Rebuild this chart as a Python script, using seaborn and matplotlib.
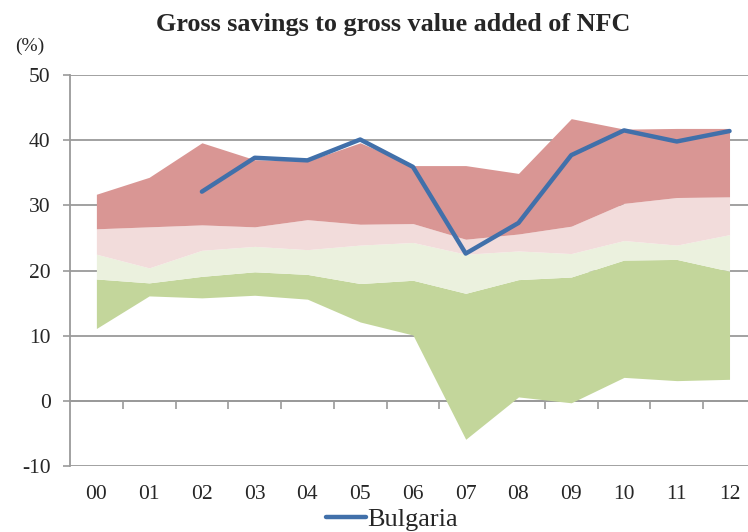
import numpy as np
import pandas as pd
import seaborn as sns
import matplotlib.pyplot as plt

years = ["00", "01", "02", "03", "04", "05", "06", "07", "08", "09", "10", "11", "12"]
# band boundaries (other countries' distribution)
lowest = [11.1, 16.1, 15.8, 16.2, 15.6, 12.1, 10.1, -5.9, 0.6, -0.3, 3.6, 3.1, 3.3]
lower_q = [18.7, 18.1, 19.1, 19.8, 19.4, 18.0, 18.5, 16.5, 18.6, 19.0, 21.6, 21.7, 19.9]
median = [22.5, 20.4, 23.1, 23.7, 23.2, 23.9, 24.3, 22.5, 23.0, 22.6, 24.6, 23.9, 25.5]
upper_q = [26.4, 26.7, 27.0, 26.7, 27.8, 27.1, 27.2, 24.8, 25.6, 26.8, 30.3, 31.2, 31.3]
highest = [31.7, 34.3, 39.6, 37.0, 36.8, 39.6, 36.1, 36.1, 34.9, 43.3, 41.7, 41.8, 41.8]
bulgaria = [np.nan, np.nan, 32.1, 37.3, 36.9, 40.1, 35.9, 22.6, 27.3, 37.7, 41.5, 39.8, 41.4]

band_colors = ["#C3D69B", "#EBF1DE", "#F2DCDB", "#D99694"]
line_color = "#4170AA"
grid_color = "#9A9A9A"

sns.set_style("white")
plt.rcParams['font.family'] = ['Liberation Serif', 'DejaVu Serif']
plt.rcParams['axes.unicode_minus'] = False

df = pd.DataFrame({'year': np.arange(len(years)), 'Bulgaria': bulgaria})

fig = plt.figure(figsize=(7.48, 5.32), dpi=100)
ax = fig.add_axes([70 / 748, 1 - 466 / 532, 1 - 70 / 748, (466 - 75) / 532])

x = df['year'].values
bounds = [lowest, lower_q, median, upper_q, highest]
for i in range(4):
    ax.fill_between(x, bounds[i], bounds[i + 1], color=band_colors[i], lw=0, zorder=2)

sns.lineplot(data=df, x='year', y='Bulgaria', ax=ax, color=line_color, lw=3.2,
             label='Bulgaria', zorder=4)

ax.set_ylim(-10, 50)
ax.set_xlim(-0.5, 12.35)
ax.set_yticks(range(-10, 51, 10))
ax.yaxis.grid(True, color=grid_color, lw=1.3, zorder=1)
ax.set_axisbelow(True)
ax.tick_params(axis='y', direction='out', length=5, width=1.2, color=grid_color,
               labelsize=15.5, pad=9, left=True)
ax.set_xticks(x)
ax.set_xticklabels(years)
ax.tick_params(axis='x', length=0, labelsize=15.5, pad=14)
for s in ['top', 'right', 'bottom']:
    ax.spines[s].set_visible(False)
ax.spines['left'].set_color(grid_color)
ax.spines['left'].set_linewidth(1.3)
ax.set_xlabel('')
ax.set_ylabel('')

# category axis crossing at zero, ticks between categories
sec = ax.secondary_xaxis(1 / 6)
sec.set_xticks(np.arange(0.5, 12, 1))
sec.set_xticklabels([])
sec.tick_params(axis='x', direction='out', length=6, width=1.2, color=grid_color)
sec.spines['bottom'].set_color(grid_color)
sec.spines['bottom'].set_linewidth(1.3)

fig.text(0.525, 1 - 31 / 532, "Gross savings to gross value added of NFC", ha='center',
         va='baseline', fontsize=18.8, fontweight='bold')
fig.text(0.02, 1 - 46 / 532, "(%)", ha='left', va='center', fontsize=14)

ax.legend_.remove()
handles, labels = ax.get_legend_handles_labels()
fig.legend(handles, labels, loc='center', bbox_to_anchor=(0.524, 0.024), frameon=False,
           fontsize=19, handlelength=1.5, handletextpad=0.05, borderpad=0)

fig.savefig("out.png", dpi=100)
